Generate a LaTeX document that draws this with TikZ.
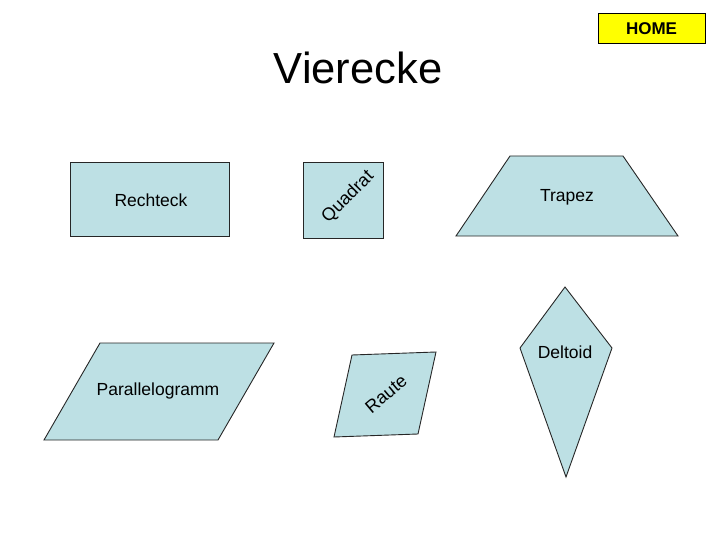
\documentclass[tikz,border=0pt]{standalone}
\usepackage{fontspec}
\setmainfont{Liberation Sans}
\definecolor{shapefill}{RGB}{189,224,228}
\definecolor{homeyellow}{RGB}{255,255,0}
\tikzset{
  shp/.style={draw=black!85,line width=0.9pt,fill=shapefill,line join=miter},
  lbl/.style={font=\fontsize{17.5}{20}\selectfont,inner sep=0pt},
  rotlbl/.style={font=\fontsize{18}{21}\selectfont,inner sep=0pt},
  homebtn/.style={draw=black,line width=1pt,fill=homeyellow,minimum width=107pt,minimum height=30pt,inner sep=0pt,font=\fontsize{17}{20}\selectfont\bfseries}
}
\begin{document}
\begin{tikzpicture}[x=1pt,y=-1pt]
  \useasboundingbox (0,0) rectangle (720,540);
  % title and button
  \node[homebtn] (home) at (651.5,29) {HOME};
  \node[font=\fontsize{43.5}{48}\selectfont,inner sep=0pt] (title) at (358,68) {Vierecke};
  % upper row
  \draw[shp] (70,162) rectangle (229,236);
  \node[lbl] (rechteck) at (151,200) {Rechteck};
  \draw[shp] (303,162) rectangle (383,238);
  \node[rotlbl,rotate=45] (quadrat) at (348,197) {Quadrat};
  \draw[shp] (510,156) -- (623,156) -- (678,236) -- (456,236) -- cycle;
  \node[lbl] (trapez) at (567,197) {Trapez};
  % lower row
  \draw[shp] (100,343) -- (274,343) -- (218,440) -- (44,440) -- cycle;
  \node[lbl] (parallelogramm) at (158,391) {Parallelogramm};
  \draw[shp] (352,355) -- (436,352) -- (418,434) -- (334,437) -- cycle;
  \node[rotlbl,rotate=40] (raute) at (386,394) {Raute};
  \draw[shp] (565,287) -- (612,348) -- (566,477) -- (520,348) -- cycle;
  \node[lbl] (deltoid) at (565,352) {Deltoid};
\end{tikzpicture}
\end{document}
